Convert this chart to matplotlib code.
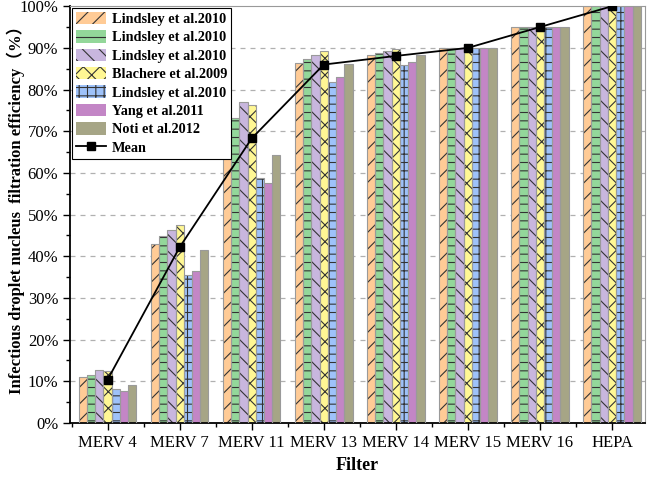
import numpy as np
import matplotlib
matplotlib.use("Agg")
import matplotlib.pyplot as plt
from matplotlib.ticker import MultipleLocator, FuncFormatter, FixedLocator

categories = ["MERV 4", "MERV 7", "MERV 11", "MERV 13", "MERV 14", "MERV 15", "MERV 16", "HEPA"]
series_names = ["Lindsley et al.2010", "Lindsley et al.2010", "Lindsley et al.2010",
                "Blachere et al.2009", "Lindsley et al.2010", "Yang et al.2011", "Noti et al.2012"]
lindsley_a = [11.1, 43.0, 70.8, 86.3, 88.2, 90.0, 95.0, 100.0]
lindsley_b = [11.5, 44.8, 73.1, 87.4, 88.7, 90.0, 95.0, 100.0]
lindsley_c = [12.6, 46.4, 77.0, 88.3, 89.3, 90.0, 95.0, 100.0]
blachere = [12.4, 47.4, 76.3, 89.2, 89.7, 90.0, 95.0, 100.0]
lindsley_d = [8.2, 35.4, 58.8, 81.7, 85.9, 90.0, 95.0, 100.0]
yang = [7.6, 36.5, 57.7, 82.9, 86.5, 90.0, 95.0, 100.0]
noti = [9.2, 41.6, 64.2, 86.2, 88.2, 90.0, 95.0, 100.0]

series = [lindsley_a, lindsley_b, lindsley_c, blachere, lindsley_d, yang, noti]
colors = ["#FFCB96", "#93D79A", "#C8B6DE", "#FFF794", "#9EC2FA", "#C386C6", "#A6A586"]
hatches = ["//", "--", "\\\\", "xx", "++", "", ""]

plt.rcParams["hatch.linewidth"] = 0.8
serif = ["Liberation Serif", "Noto Sans CJK SC", "DejaVu Serif"]
plt.rcParams["font.family"] = serif

fig = plt.figure(figsize=(6.49, 4.79), dpi=100)
ax = fig.add_axes([0.108, 0.117, 0.886, 0.870])

x = np.arange(len(categories))
n = len(series)
w = 0.8 / n
handles = []
for i, (vals, c, h, name) in enumerate(zip(series, colors, hatches, series_names)):
    pos = x + (i - (n - 1) / 2) * w
    ax.bar(pos, vals, w, color=c, hatch=h, edgecolor="#333333", linewidth=0, zorder=2)
    ax.bar(pos, vals, w, facecolor="none", edgecolor="#9a9a9a", linewidth=0.8, zorder=3)
    handles.append(plt.Rectangle((0, 0), 1, 1, facecolor=c, hatch=h, edgecolor="#333333", linewidth=0))

means = np.mean(np.array(series), axis=0)
line, = ax.plot(x, means, color="black", lw=1.3, marker="s", markersize=6, zorder=5)

ax.set_xlim(-0.52, 7.46)
ax.set_ylim(0, 100)
ax.yaxis.set_major_locator(MultipleLocator(10))
ax.yaxis.set_minor_locator(MultipleLocator(5))
ax.yaxis.set_major_formatter(FuncFormatter(lambda v, p: f"{int(round(v))}%"))
ax.set_xticks(x)
ax.set_xticklabels(categories)
ax.xaxis.set_minor_locator(FixedLocator(np.arange(-0.5, 7.6, 1.0)))
ax.tick_params(axis="both", which="major", direction="out", length=5, width=1.0, labelsize=12)
ax.tick_params(axis="both", which="minor", direction="out", length=3, width=1.0)

for gy in range(10, 100, 10):
    ax.axhline(gy, color="#b0b0b0", lw=0.9, ls=(0, (4, 4)), zorder=0)

for s in ["left", "bottom"]:
    ax.spines[s].set_linewidth(1.3)
    ax.spines[s].set_color("black")
for s in ["top", "right"]:
    ax.spines[s].set_linewidth(0.8)
    ax.spines[s].set_color("#999999")

fig.text(357 / 649, 1 - 465 / 479, "Filter", fontsize=13, fontweight="bold",
         ha="center", va="center")
fig.text(16 / 649, 1 - 206 / 479, "Infectious droplet nucleus  filtration efficiency（%）",
         fontsize=12, fontweight="bold", rotation=90, ha="center", va="center")

leg = ax.legend(handles + [line], series_names + ["Mean"], loc="upper left",
                bbox_to_anchor=(0.0, 1.0), borderaxespad=0.1, fancybox=False,
                edgecolor="black", framealpha=1, prop={"family": serif, "weight": "bold", "size": 10.3},
                handlelength=2.1, handleheight=0.95, labelspacing=0.3, handletextpad=0.4,
                borderpad=0.3)
leg.get_frame().set_linewidth(0.8)
leg.set_zorder(10)

fig.savefig("out.png", dpi=100)
